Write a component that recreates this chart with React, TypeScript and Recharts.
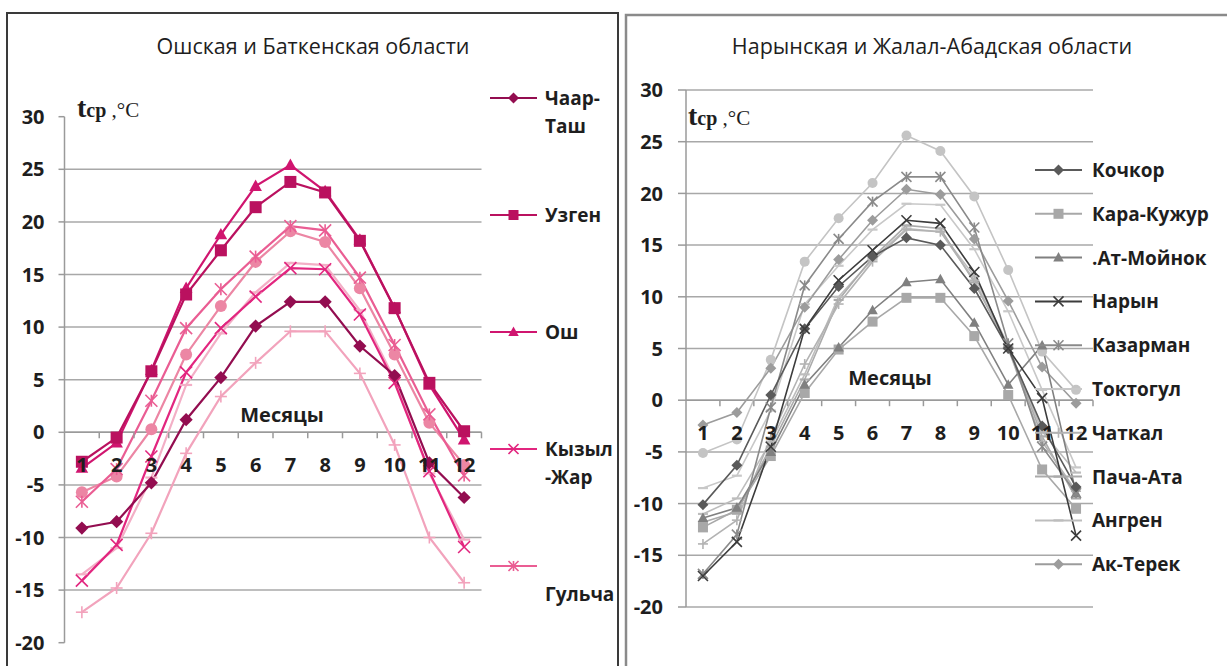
import React from 'react';
import { LineChart, Line, XAxis, YAxis, CartesianGrid, ReferenceLine, ReferenceDot } from 'recharts';

const FONT = "'Open Sans', 'Noto Sans', sans-serif";
const SERIF = "'Liberation Serif', 'DejaVu Serif', serif";

const months = [1, 2, 3, 4, 5, 6, 7, 8, 9, 10, 11, 12];
const halfTicks = [1.5, 2.5, 3.5, 4.5, 5.5, 6.5, 7.5, 8.5, 9.5, 10.5, 11.5, 12.5];
const yTicks = [-20, -15, -10, -5, 0, 5, 10, 15, 20, 25, 30];
const leftGrid = [-15, -10, -5, 0, 5, 10, 15, 20, 25];
const rightGrid = [-20, -15, -10, -5, 0, 5, 10, 15, 20, 25, 30];

const leftTitle = 'Ошская и Баткенская области';
const rightTitle = 'Нарынская и Жалал-Абадская области';
const xTitle = 'Месяцы';

// Left chart (Osh & Batken)
const chaarTash = [-9.1, -8.5, -4.8, 1.2, 5.2, 10.1, 12.4, 12.4, 8.2, 5.4, -2.9, -6.2];
const uzgen = [-2.8, -0.5, 5.8, 13.1, 17.3, 21.4, 23.8, 22.8, 18.2, 11.8, 4.7, 0.1];
const osh = [-3.4, -1.0, 5.9, 13.7, 18.8, 23.4, 25.4, 22.9, 18.3, 11.8, 4.5, -0.7];
const kyzylZhar = [-14.1, -10.7, -2.3, 5.7, 9.9, 12.9, 15.6, 15.5, 11.2, 4.7, -3.7, -10.9];
const gulcha = [-6.6, -3.5, 3.0, 9.9, 13.6, 16.7, 19.6, 19.2, 14.7, 8.3, 1.7, -4.1];
const leftExtraCircle = [-5.7, -4.2, 0.3, 7.4, 12.0, 16.2, 19.1, 18.1, 13.7, 7.4, 0.9, -3.1];
const leftExtraDash = [-13.5, -11.0, -4.3, 4.5, 9.4, 13.3, 16.1, 15.9, 11.6, 5.0, -3.9, -10.2];
const leftExtraPlus = [-17.1, -14.8, -9.6, -2.0, 3.4, 6.6, 9.6, 9.6, 5.6, -1.2, -10.0, -14.3];

// Right chart (Naryn & Jalal-Abad)
const kochkor = [-10.1, -6.3, 0.5, 6.9, 11.0, 13.9, 15.7, 15.0, 10.8, 5.0, -2.5, -8.4];
const karaKuzhur = [-12.3, -10.6, -5.4, 0.7, 4.9, 7.6, 9.9, 9.9, 6.2, 0.5, -6.7, -10.5];
const atMoinok = [-11.4, -10.4, -5.0, 1.5, 5.1, 8.7, 11.4, 11.7, 7.5, 1.5, 5.3, -9.0];
const naryn = [-17.0, -13.7, -4.5, 6.9, 11.6, 14.5, 17.4, 17.1, 12.4, 5.0, 0.2, -13.1];
const kazarman = [-16.8, -13.0, -0.7, 11.1, 15.6, 19.2, 21.6, 21.6, 16.7, 5.5, -4.5, -9.0];
const toktogul = [-8.5, -7.3, -1.0, 9.3, 13.0, 16.5, 19.0, 18.9, 14.6, 8.6, 1.0, -6.5];
const chatkal = [-13.9, -11.6, -3.6, 3.5, 9.3, 13.4, 16.5, 16.3, 11.6, 5.0, -4.0, -8.8];
const pachaAta = [-11.8, -10.8, -4.5, 2.0, 9.7, 13.8, 16.9, 16.6, 11.4, 5.2, -3.5, -9.5];
const angren = [-11.0, -9.5, -4.0, 2.5, 10.0, 13.6, 16.6, 16.3, 12.0, 5.3, -3.0, -7.0];
const akTerek = [-2.4, -1.2, 3.1, 9.0, 13.6, 17.4, 20.4, 19.9, 15.6, 9.6, 3.2, -0.3];
const rightExtraCircle = [-5.1, -3.8, 3.9, 13.4, 17.6, 21.0, 25.6, 24.1, 19.7, 12.6, 4.7, 1.0];

type Series = { key: string; lines: string[]; values: number[]; color: string; shape: string; legend: boolean };

const leftSeries: Series[] = [
  { key: 'leftExtraPlus', lines: [], values: leftExtraPlus, color: '#F2A3BC', shape: 'plus', legend: false },
  { key: 'leftExtraDash', lines: [], values: leftExtraDash, color: '#F3AFC6', shape: 'dash', legend: false },
  { key: 'leftExtraCircle', lines: [], values: leftExtraCircle, color: '#EC86A4', shape: 'circle', legend: false },
  { key: 'gulcha', lines: ['', 'Гульча'], values: gulcha, color: '#EA5D93', shape: 'star', legend: true },
  { key: 'kyzylZhar', lines: ['Кызыл', '-Жар'], values: kyzylZhar, color: '#E2267F', shape: 'x', legend: true },
  { key: 'chaarTash', lines: ['Чаар-', 'Таш'], values: chaarTash, color: '#930D50', shape: 'diamond', legend: true },
  { key: 'osh', lines: ['Ош'], values: osh, color: '#D0156F', shape: 'triangle', legend: true },
  { key: 'uzgen', lines: ['Узген'], values: uzgen, color: '#BA115F', shape: 'square', legend: true },
];
const leftLegendOrder = ['chaarTash', 'uzgen', 'osh', 'kyzylZhar', 'gulcha'];

const rightSeries: Series[] = [
  { key: 'rightExtraCircle', lines: [], values: rightExtraCircle, color: '#C4C4C4', shape: 'circle', legend: false },
  { key: 'toktogul', lines: ['Токтогул'], values: toktogul, color: '#C8C8C8', shape: 'dash', legend: true },
  { key: 'angren', lines: ['Ангрен'], values: angren, color: '#BDBDBD', shape: 'dash', legend: true },
  { key: 'pachaAta', lines: ['Пача-Ата'], values: pachaAta, color: '#ABABAB', shape: 'dash', legend: true },
  { key: 'chatkal', lines: ['Чаткал'], values: chatkal, color: '#B3B3B3', shape: 'plus', legend: true },
  { key: 'akTerek', lines: ['Ак-Терек'], values: akTerek, color: '#9C9C9C', shape: 'diamond', legend: true },
  { key: 'karaKuzhur', lines: ['Кара-Кужур'], values: karaKuzhur, color: '#A8A8A8', shape: 'square', legend: true },
  { key: 'atMoinok', lines: ['.Ат-Мойнок'], values: atMoinok, color: '#808080', shape: 'triangle', legend: true },
  { key: 'kazarman', lines: ['Казарман'], values: kazarman, color: '#8A8A8A', shape: 'star', legend: true },
  { key: 'kochkor', lines: ['Кочкор'], values: kochkor, color: '#5A5A5A', shape: 'diamond', legend: true },
  { key: 'naryn', lines: ['Нарын'], values: naryn, color: '#3C3C3C', shape: 'x', legend: true },
];
const rightLegendOrder = ['kochkor', 'karaKuzhur', 'atMoinok', 'naryn', 'kazarman', 'toktogul', 'chatkal', 'pachaAta', 'angren', 'akTerek'];

const buildData = (series: Series[]) =>
  months.map((m, i) => {
    const row: Record<string, number> = { m };
    series.forEach((s) => {
      row[s.key] = s.values[i];
    });
    return row;
  });

const leftData = buildData(leftSeries);
const rightData = buildData(rightSeries);

function Marker({ shape, cx, cy, size, color }: { shape: string; cx: number; cy: number; size: number; color: string }) {
  const s = size / 2;
  if (cx == null || cy == null || isNaN(cx) || isNaN(cy)) return <g />;
  switch (shape) {
    case 'diamond':
      return <polygon points={`${cx},${cy - s * 1.1} ${cx + s * 1.1},${cy} ${cx},${cy + s * 1.1} ${cx - s * 1.1},${cy}`} fill={color} />;
    case 'square':
      return <rect x={cx - s} y={cy - s} width={size} height={size} fill={color} />;
    case 'triangle':
      return <polygon points={`${cx},${cy - s * 1.1} ${cx + s * 1.05},${cy + s * 0.8} ${cx - s * 1.05},${cy + s * 0.8}`} fill={color} />;
    case 'circle':
      return <circle cx={cx} cy={cy} r={s} fill={color} />;
    case 'x':
      return (
        <g stroke={color} strokeWidth={1.6}>
          <line x1={cx - s} y1={cy - s} x2={cx + s} y2={cy + s} />
          <line x1={cx - s} y1={cy + s} x2={cx + s} y2={cy - s} />
        </g>
      );
    case 'star':
      return (
        <g stroke={color} strokeWidth={1.6}>
          <line x1={cx - s} y1={cy - s} x2={cx + s} y2={cy + s} />
          <line x1={cx - s} y1={cy + s} x2={cx + s} y2={cy - s} />
          <line x1={cx} y1={cy - s} x2={cx} y2={cy + s} />
        </g>
      );
    case 'plus':
      return (
        <g stroke={color} strokeWidth={1.6}>
          <line x1={cx - s} y1={cy} x2={cx + s} y2={cy} />
          <line x1={cx} y1={cy - s} x2={cx} y2={cy + s} />
        </g>
      );
    case 'dash':
      return <line x1={cx - s} y1={cy} x2={cx + s} y2={cy} stroke={color} strokeWidth={2.2} />;
    default:
      return <g />;
  }
}

const tickText = { fill: '#1e1e1e', fontSize: 20, fontWeight: 700, fontFamily: FONT };

function renderChart(series: Series[], data: Record<string, number>[], opts: {
  width: number; height: number; margin: any; yWidth: number; tickSize: number; tickMargin: number;
  grid: number[]; strokeWidth: number; markerSize: number; gridColor: string; axisColor: string;
}) {
  return (
    <LineChart width={opts.width} height={opts.height} data={data} margin={opts.margin}>
      <CartesianGrid vertical={false} horizontalValues={opts.grid} stroke={opts.gridColor} strokeWidth={1.5} />
      <XAxis type="number" dataKey="m" domain={[0.5, 12.5]} hide height={0} />
      <YAxis
        type="number"
        domain={[-20, 30]}
        ticks={yTicks}
        interval={0}
        width={opts.yWidth}
        tickSize={opts.tickSize}
        tickMargin={opts.tickMargin}
        axisLine={{ stroke: opts.axisColor, strokeWidth: 1.5 }}
        tickLine={{ stroke: opts.axisColor, strokeWidth: 1.5 }}
        tick={tickText}
      />
      <ReferenceLine y={0} stroke={opts.axisColor} strokeWidth={1.5} />
      {halfTicks.map((h) => (
        <ReferenceDot
          key={`ht-${h}`}
          x={h}
          y={0}
          r={0}
          shape={(p: any) => <line x1={p.cx} x2={p.cx} y1={p.cy} y2={p.cy + 6} stroke={opts.axisColor} strokeWidth={1.5} />}
        />
      ))}
      {series.map((s) => (
        <Line
          key={s.key}
          dataKey={s.key}
          type="linear"
          stroke={s.color}
          strokeWidth={opts.strokeWidth}
          isAnimationActive={false}
          activeDot={false}
          legendType="none"
          dot={(p: any) => <Marker key={`${s.key}-${p.index}`} shape={s.shape} cx={p.cx} cy={p.cy} size={opts.markerSize} color={s.color} />}
        />
      ))}
      {months.map((m) => (
        <ReferenceDot
          key={`ml-${m}`}
          x={m}
          y={0}
          r={0}
          shape={(p: any) => (
            <text x={p.cx} y={p.cy + 40} textAnchor="middle" fill="#1e1e1e" fontSize={20} fontWeight={700} fontFamily={FONT}>
              {m}
            </text>
          )}
        />
      ))}
    </LineChart>
  );
}

function LegendBlock({ series, order, x0, y0, step, lineHeight, lineLen, textGap, markerSize }: {
  series: Series[]; order: string[]; x0: number; y0: number; step: number; lineHeight: number; lineLen: number; textGap: number; markerSize: number;
}) {
  return (
    <g>
      {order.map((k, i) => {
        const s = series.find((q) => q.key === k)!;
        const y = y0 + i * step;
        return (
          <g key={k}>
            <line x1={x0} x2={x0 + lineLen} y1={y} y2={y} stroke={s.color} strokeWidth={2} />
            <Marker shape={s.shape} cx={x0 + lineLen / 2} cy={y} size={markerSize} color={s.color} />
            {s.lines.map((t, j) => (
              <text key={j} x={x0 + lineLen + textGap} y={y + 7 + j * lineHeight} fontSize={19} fontWeight={700} fontFamily={FONT} fill="#1e1e1e">
                {t}
              </text>
            ))}
          </g>
        );
      })}
    </g>
  );
}

function TLabel({ x, y }: { x: number; y: number }) {
  return (
    <text x={x} y={y} fontFamily={SERIF} fill="#1e1e1e">
      <tspan fontSize={28} fontWeight={700}>t</tspan>
      <tspan fontSize={20} fontWeight={700}>ср</tspan>
      <tspan fontSize={21}> ,°C</tspan>
    </text>
  );
}

export default function App() {
  return (
    <div style={{ position: 'fixed', left: 0, top: 0, width: 1227, height: 666, background: '#fff', overflow: 'hidden' }}>
      <svg width={1227} height={666} style={{ position: 'absolute', left: 0, top: 0 }}>
        <rect x={7} y={13} width={611} height={700} fill="none" stroke="#3a3a3a" strokeWidth={2} />
        <rect x={626} y={15} width={640} height={700} fill="none" stroke="#8a8a8a" strokeWidth={2.5} />
      </svg>
      <div style={{ position: 'absolute', left: 0, top: 0 }}>
        {renderChart(leftSeries, leftData, {
          width: 620, height: 666, margin: { top: 116.7, right: 138.5, bottom: 23.3, left: 0 },
          yWidth: 64.5, tickSize: 6, tickMargin: 14, grid: leftGrid, strokeWidth: 2.2,
          markerSize: 12, gridColor: '#a8a8a8', axisColor: '#9a9a9a',
        })}
      </div>
      <div style={{ position: 'absolute', left: 620, top: 0 }}>
        {renderChart(rightSeries, rightData, {
          width: 607, height: 666, margin: { top: 90, right: 134, bottom: 59, left: 0 },
          yWidth: 66, tickSize: 8, tickMargin: 15, grid: rightGrid, strokeWidth: 1.6,
          markerSize: 10, gridColor: '#a8a8a8', axisColor: '#9a9a9a',
        })}
      </div>
      <svg width={1227} height={666} style={{ position: 'absolute', left: 0, top: 0, pointerEvents: 'none' }}>
        <text x={313} y={54} textAnchor="middle" fontSize={21.5} fontWeight={500} fontFamily={FONT} fill="#1e1e1e">{leftTitle}</text>
        <text x={932} y={54} textAnchor="middle" fontSize={21.5} fontWeight={500} fontFamily={FONT} fill="#1e1e1e">{rightTitle}</text>
        <TLabel x={77} y={117} />
        <TLabel x={688} y={125} />
        <text x={282} y={422} textAnchor="middle" fontSize={20} fontWeight={700} fontFamily={FONT} fill="#1e1e1e">{xTitle}</text>
        <text x={890} y={385} textAnchor="middle" fontSize={20} fontWeight={700} fontFamily={FONT} fill="#1e1e1e">{xTitle}</text>
        <LegendBlock series={leftSeries} order={leftLegendOrder} x0={490} y0={98} step={117} lineHeight={28} lineLen={47} textGap={8} markerSize={10} />
        <LegendBlock series={rightSeries} order={rightLegendOrder} x0={1035} y0={170} step={43.8} lineHeight={0} lineLen={47} textGap={10} markerSize={10} />
      </svg>
    </div>
  );
}
